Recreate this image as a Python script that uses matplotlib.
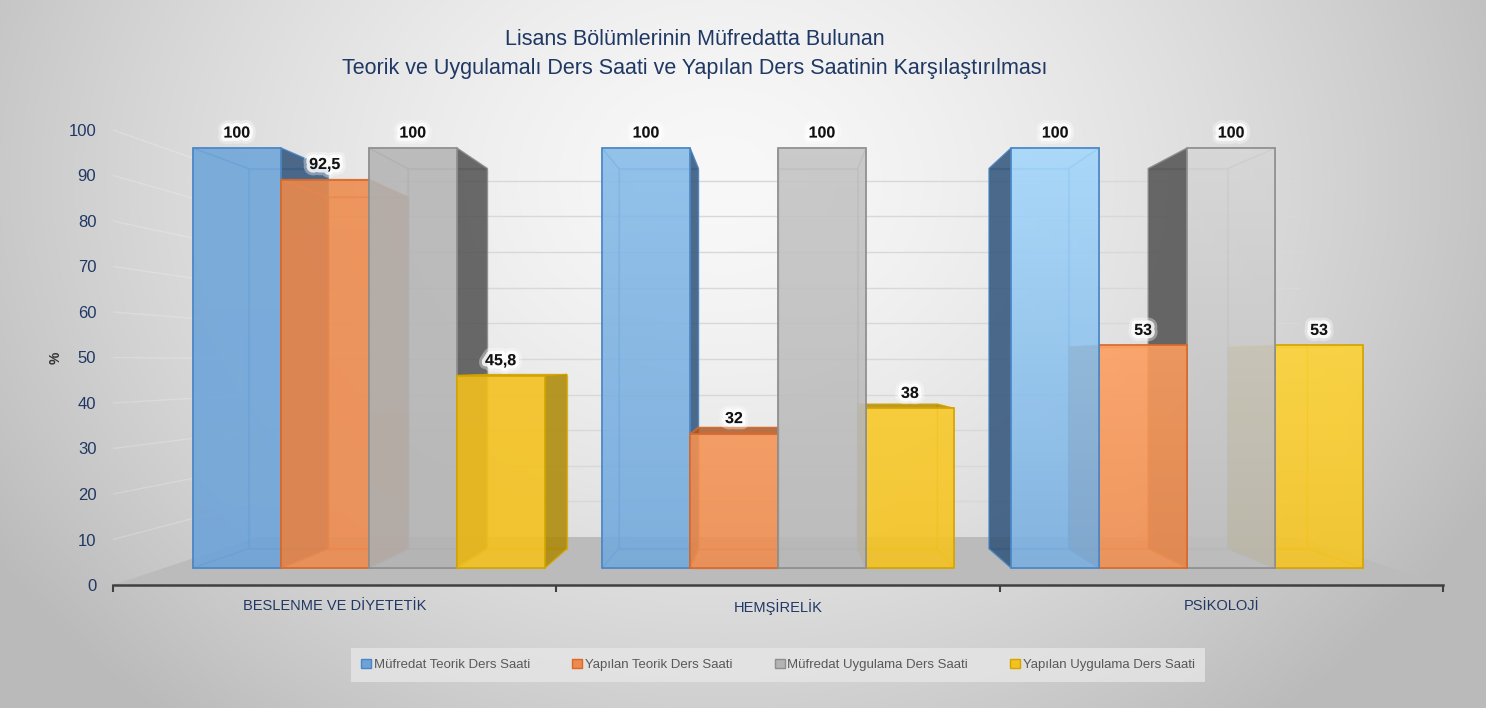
import numpy as np
import matplotlib
matplotlib.use("Agg")
import matplotlib.pyplot as plt
from matplotlib.patches import Polygon, Patch
from matplotlib.colors import to_rgb, to_rgba
import matplotlib.patheffects as pe

# data
categories = ['BESLENME VE DİYETETİK', 'HEMŞİRELİK', 'PSİKOLOJİ']
series = ['Müfredat Teorik Ders Saati', 'Yapılan Teorik Ders Saati',
          'Müfredat Uygulama Ders Saati', 'Yapılan Uygulama Ders Saati']
mufredat_teorik = [100, 100, 100]
yapilan_teorik = [92.5, 32, 53]
mufredat_uygulama = [100, 100, 100]
yapilan_uygulama = [45.8, 38, 53]
values = [mufredat_teorik, yapilan_teorik, mufredat_uygulama, yapilan_uygulama]

front_cols = ['#6CA3D8', '#EE8A4C', '#B4B4B4', '#F5C11C']
light_cols = ['#A8DBFF', '#FFA060', '#DADADA', '#FFD535']
edge_cols = ['#4A86C5', '#D8692A', '#8E8E8E', '#D4A400']
side_cols = ['#2B4D73', '#A9521E', '#4A4A4A', '#A88400']
light = [0.05, 0.45, 0.95]   # lighting toward the right

FONT = ['Liberation Sans Narrow', 'Liberation Sans', 'DejaVu Sans']
plt.rcParams['font.family'] = FONT
NAVY = '#203864'

# fake perspective: scale around a vanishing point in data space
UVP, VVP = 1.0, 48.6
S_F, S_B, S_WALL = 0.923, 0.835, 0.783
BAR_W = 0.215


def P(u, v, s):
    return (UVP + s * (u - UVP), VVP + s * (v - VVP))


def mix(c1, c2, t):
    a = np.array(to_rgb(c1))
    b = np.array(to_rgb(c2))
    return tuple(a + (b - a) * t)


fig = plt.figure(figsize=(14.86, 7.08), dpi=100)

# radial background
bg = fig.add_axes([0, 0, 1, 1], zorder=-10)
yy, xx = np.mgrid[0:708, 0:1486]
r = np.sqrt(((xx - 720) / 800.0) ** 2 + ((yy - 180) / 650.0) ** 2)
g = np.clip(248 - 55 * r ** 1.5, 186, 248) / 255.0
bg.imshow(np.dstack([g, g, g]), aspect='auto', extent=[0, 1, 0, 1])
bg.axis('off')

# main axes: v=0 at px 585, 4.55 px per unit
ybot, ytop = -0.8, 115
pxu = 4.55
ax_h = (ytop - ybot) * pxu / 708
ax_b = (708 - (585 - ybot * pxu)) / 708
ax = fig.add_axes([113 / 1486, ax_b, 1330 / 1486, ax_h])
ax.patch.set_alpha(0)
ax.set_xlim(-0.5, 2.5)
ax.set_ylim(ybot, ytop)

# floor
floor = [P(-0.5, 0, 1), P(2.5, 0, 1), P(2.5, 0, S_WALL), P(-0.5, 0, S_WALL)]
ax.add_patch(Polygon(floor, closed=True, facecolor='#BBBBBB', edgecolor='none', zorder=1))

# back wall and side wall gridlines
for v in range(10, 101, 10):
    a = P(-0.5, v, S_WALL)
    b = P(2.5, v, S_WALL)
    ax.plot([a[0], b[0]], [a[1], b[1]], color='#D8D8D8', lw=1, zorder=0.5)
    c = P(-0.5, v, 1)
    ax.plot([c[0], a[0]], [c[1], a[1]], color='white', lw=1, alpha=0.2, zorder=0.5)


def poly(pts, fc, fa, ec, ea, z):
    ax.add_patch(Polygon(pts, closed=True, facecolor=to_rgba(fc, fa),
                         edgecolor=to_rgba(ec, ea), lw=1, zorder=z))


z = 2
for ci in range(len(categories)):
    left_bars = [i for i in range(4) if ci + (i - 1.5) * BAR_W + BAR_W / 2 <= UVP + 1e-6]
    right_bars = [i for i in range(4) if i not in left_bars]
    order = left_bars + right_bars[::-1]
    for i in order:
        h = values[i][ci]
        u0 = ci + (i - 2) * BAR_W
        u1 = u0 + BAR_W
        F = lambda u, v: P(u, v, S_F)
        B = lambda u, v: P(u, v, S_B)
        back = [B(u0, 0), B(u1, 0), B(u1, h), B(u0, h)]
        lft = [F(u0, 0), B(u0, 0), B(u0, h), F(u0, h)]
        rgt = [F(u1, 0), B(u1, 0), B(u1, h), F(u1, h)]
        top = [F(u0, h), F(u1, h), B(u1, h), B(u0, h)]
        bot = [F(u0, 0), F(u1, 0), B(u1, 0), B(u0, 0)]
        base = front_cols[i]
        topc = mix(base, light_cols[i], light[ci])
        botc = mix(base, light_cols[i], light[ci] * 0.25)
        # hidden faces
        poly(back, base, 0.25, edge_cols[i], 0.5, z)
        poly(bot, base, 0.2, edge_cols[i], 0.5, z)
        vis = []
        if u1 <= UVP + 1e-6:
            poly(lft, base, 0.25, edge_cols[i], 0.5, z)
            vis.append(rgt)
        elif u0 >= UVP - 1e-6:
            poly(rgt, base, 0.25, edge_cols[i], 0.5, z)
            vis.append(lft)
        else:
            poly(lft, base, 0.2, edge_cols[i], 0.5, z)
            poly(rgt, base, 0.2, edge_cols[i], 0.5, z)
        if h < VVP:
            z += 0.01
            poly(top, side_cols[i], 0.75, edge_cols[i], 0.8, z)
        else:
            poly(top, base, 0.2, edge_cols[i], 0.5, z)
        z += 0.01
        for pts in vis:
            poly(pts, side_cols[i], 0.8, edge_cols[i], 0.8, z)
        z += 0.01
        # front face
        x0, y0 = F(u0, 0)
        x1, y1 = F(u1, h)
        bar = ax.bar(x0, y1 - y0, width=x1 - x0, bottom=y0, align='edge',
                     facecolor='none', edgecolor=edge_cols[i], lw=1.2, zorder=z + 0.002)[0]
        grad = np.linspace(0, 1, 64)[:, None, None]
        cimg = np.array(topc)[None, None, :] * (1 - grad) + np.array(botc)[None, None, :] * grad
        im = ax.imshow(np.broadcast_to(cimg, (64, 2, 3)), extent=[x0, x1, y0, y1],
                       aspect='auto', alpha=0.85, zorder=z + 0.001, interpolation='bilinear')
        im.set_clip_path(bar)
        z += 0.05
        lab = ('%g' % h).replace('.', ',')
        ax.annotate(lab, ((x0 + x1) / 2, y1), xytext=(0, 10.8), textcoords='offset points',
                    ha='center', va='center', fontsize=11.5, fontweight='bold', color='#111111',
                    zorder=60,
                    path_effects=[pe.withStroke(linewidth=9, foreground=(1, 1, 1, 0.35)),
                                  pe.withStroke(linewidth=5, foreground=(1, 1, 1, 0.8))])

ax.set_xlim(-0.5, 2.5)
ax.set_ylim(ybot, ytop)

# axes styling
for sp in ['left', 'right', 'top']:
    ax.spines[sp].set_visible(False)
ax.spines['bottom'].set_position(('data', 0))
ax.spines['bottom'].set_color('#404040')
ax.spines['bottom'].set_linewidth(1.8)
ax.set_yticks(range(0, 101, 10))
ax.tick_params(axis='y', length=0, pad=12, labelsize=12, labelcolor=NAVY)
ax.set_xticks([-0.5, 0.5, 1.5, 2.5])
ax.set_xticklabels([])
ax.tick_params(axis='x', which='major', length=5, width=1.5, color='#404040', direction='out')
ax.set_xticks([0, 1, 2], minor=True)
ax.set_xticklabels(categories, minor=True)
ax.tick_params(axis='x', which='minor', length=0, pad=10, labelsize=10.5, labelcolor=NAVY)
ax.set_ylabel('%', fontsize=10, color='#333333', fontweight='bold')
ax.yaxis.set_label_coords(-0.038, (50 - ybot) / (ytop - ybot))

fig.text(695 / 1486, 1 - 54 / 708, 'Lisans Bölümlerinin Müfredatta Bulunan\n'
         'Teorik ve Uygulamalı Ders Saati ve Yapılan Ders Saatinin Karşılaştırılması',
         ha='center', va='center', fontsize=15.5, color=NAVY, linespacing=1.5)

handles = [Patch(facecolor=front_cols[i], edgecolor=edge_cols[i]) for i in range(4)]
leg = fig.legend(handles, series, loc='center', bbox_to_anchor=(778 / 1486, 1 - 665 / 708),
                 ncol=4, frameon=True, fontsize=9.5, handlelength=0.75, handleheight=0.75,
                 handletextpad=0.2, columnspacing=3.2, borderpad=0.5, labelcolor='#595959')
leg.get_frame().set_facecolor('#E6E6E6')
leg.get_frame().set_edgecolor('none')
leg.get_frame().set_alpha(0.8)
leg.get_frame().set_boxstyle('square')

fig.savefig('out.png', dpi=100)
